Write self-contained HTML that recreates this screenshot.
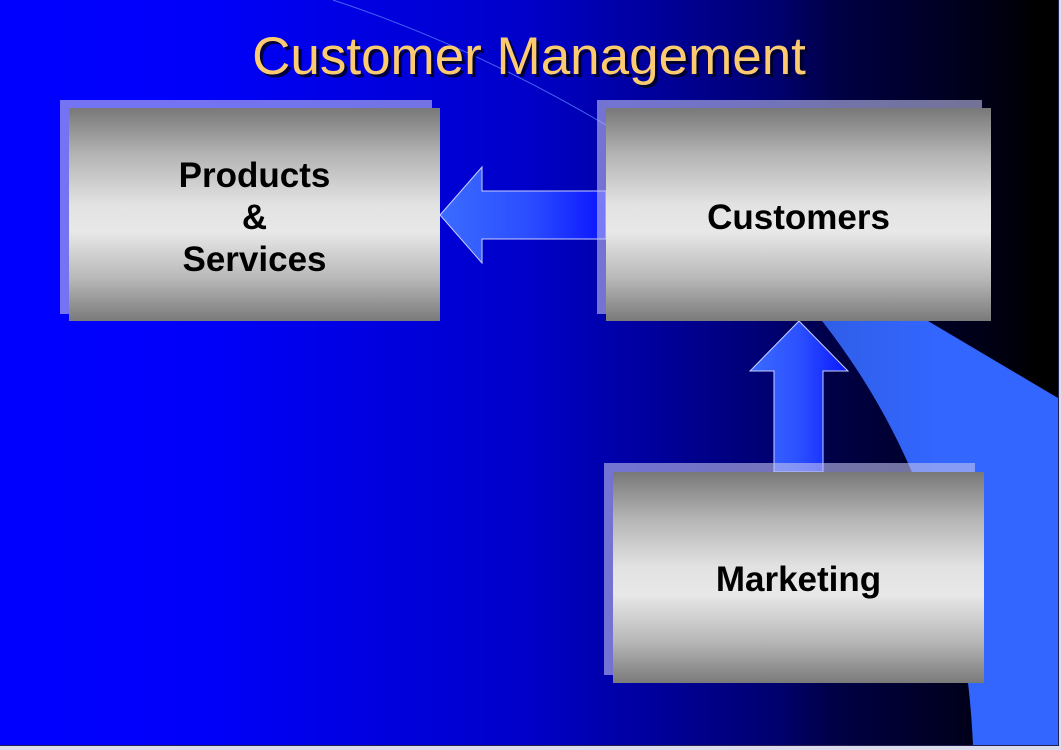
<!DOCTYPE html>
<html>
<head>
<meta charset="utf-8">
<style>
html,body{margin:0;padding:0;background:#dcdcec;}
body{width:1061px;height:750px;overflow:hidden;}
svg{display:block;}
</style>
</head>
<body>
<svg width="1061" height="750" viewBox="0 0 1061 750" xmlns="http://www.w3.org/2000/svg">
  <defs>
    <linearGradient id="bg" x1="0" y1="0" x2="1059" y2="0" gradientUnits="userSpaceOnUse">
      <stop offset="0" stop-color="#0000ff"/>
      <stop offset="0.19" stop-color="#0000fa"/>
      <stop offset="0.5" stop-color="#0000c8"/>
      <stop offset="0.73" stop-color="#000070"/>
      <stop offset="0.79" stop-color="#000045"/>
      <stop offset="0.94" stop-color="#000012"/>
      <stop offset="0.98" stop-color="#000000"/>
      <stop offset="1" stop-color="#000000"/>
    </linearGradient>
    <linearGradient id="box" x1="0" y1="0" x2="0" y2="1">
      <stop offset="0" stop-color="#787878"/>
      <stop offset="0.22" stop-color="#b4b4b4"/>
      <stop offset="0.45" stop-color="#e2e2e2"/>
      <stop offset="0.58" stop-color="#e8e8e8"/>
      <stop offset="0.8" stop-color="#b8b8b8"/>
      <stop offset="1" stop-color="#7a7a7a"/>
    </linearGradient>
    <linearGradient id="arrH" x1="0" y1="0" x2="1" y2="0">
      <stop offset="0" stop-color="#3b6cff"/>
      <stop offset="0.55" stop-color="#2a4cff"/>
      <stop offset="1" stop-color="#0a14ff"/>
    </linearGradient>
    <linearGradient id="arrV" x1="0" y1="0" x2="1" y2="0">
      <stop offset="0" stop-color="#3b6cff"/>
      <stop offset="0.5" stop-color="#2c50ff"/>
      <stop offset="1" stop-color="#0a18ff"/>
    </linearGradient>
    <linearGradient id="sw" x1="820" y1="0" x2="1059" y2="0" gradientUnits="userSpaceOnUse">
      <stop offset="0" stop-color="#2f5ee6"/>
      <stop offset="0.5" stop-color="#3366ff"/>
      <stop offset="1" stop-color="#3366ff"/>
    </linearGradient>
  </defs>

  <!-- slide background -->
  <rect x="0" y="0" width="1059" height="746" fill="url(#bg)"/>
  <rect x="1058" y="0" width="1" height="746" fill="#202050"/>
  <rect x="0" y="745" width="1059" height="1" fill="#202050"/>

  <!-- swoosh -->
  <path d="M822,321 C900,420 965,560 973,745 L1058,745 L1058,398 L928,321 Z" fill="url(#sw)"/>
  <!-- thin arc line -->
  <path d="M333,0 Q470,45 606,125" fill="none" stroke="#5a7cff" stroke-width="1" opacity="0.8"/>

  <!-- left arrow -->
  <path d="M440,215 L482,167 L482,191 L606,191 L606,239 L482,239 L482,263 Z" fill="url(#arrH)" stroke="#c8d0ff" stroke-width="1"/>
  <!-- up arrow -->
  <path d="M799,321 L848,371 L823,371 L823,472 L774,472 L774,371 L750,371 Z" fill="url(#arrV)" stroke="#c8d0ff" stroke-width="1"/>

  <!-- Products box -->
  <rect x="60" y="100" width="372" height="214" fill="#c0c0ee" opacity="0.6"/>
  <rect x="69" y="108" width="371" height="213" fill="url(#box)"/>
  <!-- Customers box -->
  <rect x="597" y="100" width="385" height="214" fill="#c0c0ee" opacity="0.6"/>
  <rect x="606" y="108" width="385" height="213" fill="url(#box)"/>
  <!-- Marketing box -->
  <rect x="604" y="463" width="371" height="212" fill="#c0c0ee" opacity="0.6"/>
  <rect x="613" y="472" width="371" height="211" fill="url(#box)"/>

  <!-- title -->
  <g font-family="'Liberation Sans', Arial, sans-serif" font-size="53" text-anchor="middle">
    <text x="532" y="77" fill="#000022" opacity="0.85">Customer Management</text>
    <text x="529" y="74" fill="#fccb70">Customer Management</text>
  </g>

  <!-- box labels -->
  <g font-family="'Liberation Sans', Arial, sans-serif" font-size="35" font-weight="bold" fill="#000" text-anchor="middle">
    <text x="254.5" y="187">Products</text>
    <text x="254.5" y="229">&amp;</text>
    <text x="254.5" y="271">Services</text>
    <text x="798.5" y="229">Customers</text>
    <text x="798.5" y="591">Marketing</text>
  </g>
</svg>
</body>
</html>
